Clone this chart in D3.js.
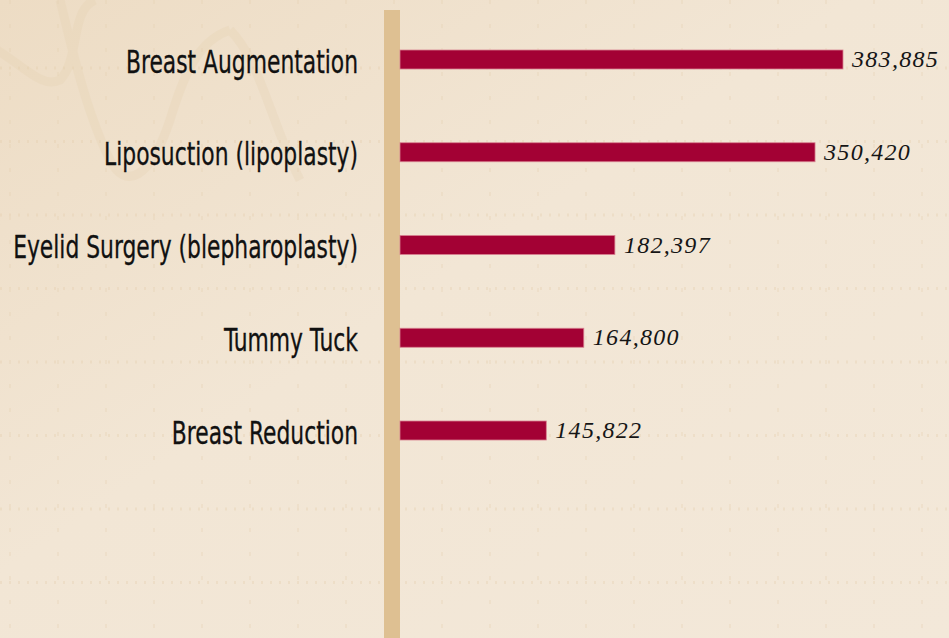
<!DOCTYPE html>
<html>
<head>
<meta charset="utf-8">
<script src="https://cdn.jsdelivr.net/npm/d3@7"></script>
<style>
  html, body { margin: 0; padding: 0; background: #f1e5d3; }
  svg { display: block; }
</style>
</head>
<body>
<svg id="chart" width="949" height="638"></svg>
<script>
// ---- data ----
const categories = [
  "Breast Augmentation",
  "Liposuction (lipoplasty)",
  "Eyelid Surgery (blepharoplasty)",
  "Tummy Tuck",
  "Breast Reduction"
];
const values = [383885, 350420, 182397, 164800, 145822];

// ---- setup ----
const W = 949, H = 638;
const svg = d3.select("#chart");
const defs = svg.append("defs");

// parchment background
const bg = defs.append("linearGradient").attr("id", "bg")
  .attr("x1", "0").attr("y1", "0").attr("x2", "1").attr("y2", "1");
bg.append("stop").attr("offset", "0").attr("stop-color", "#eddcc4");
bg.append("stop").attr("offset", "0.45").attr("stop-color", "#f2e6d5");
bg.append("stop").attr("offset", "1").attr("stop-color", "#f3e8d9");
svg.append("rect").attr("width", W).attr("height", H).attr("fill", "url(#bg)");

// faint ledger pattern
const pat = svg.append("g").attr("opacity", 0.3);
d3.range(0, H, 73.5).forEach(yy => {
  pat.append("line").attr("x1", 0).attr("x2", W).attr("y1", yy + 68).attr("y2", yy + 68)
    .attr("stroke", "#e3cba8").attr("stroke-width", 3).attr("stroke-dasharray", "2 7");
});
d3.range(10, W, 48).forEach(xx => {
  pat.append("line").attr("x1", xx).attr("x2", xx).attr("y1", 0).attr("y2", H)
    .attr("stroke", "#e6d1b2").attr("stroke-width", 2).attr("stroke-dasharray", "4 20");
});
// faint wave curves in upper left
const waves = svg.append("g").attr("fill", "none").attr("stroke", "#e6d2b2").attr("stroke-width", 9).attr("opacity", 0.3);
waves.append("path").attr("d", "M-20,40 C20,60 40,90 60,80 C80,60 70,10 95,0");
waves.append("path").attr("d", "M60,0 C70,40 85,110 110,160 C125,190 150,180 170,120 C185,70 200,40 230,30");
waves.append("path").attr("d", "M230,30 C260,60 270,120 300,180");

// ---- scales ----
const x = d3.scaleLog().domain([90482, 400000]).range([400, 855.6]);
const y = d3.scalePoint().domain(categories).range([59.5, 430.5]);
const barH = 19;

// vertical axis bar
svg.append("rect")
  .attr("x", 384).attr("y", 10).attr("width", 16).attr("height", H - 10)
  .attr("fill", "#dec092");

// bars
svg.append("g").selectAll("rect")
  .data(categories)
  .join("rect")
  .attr("x", x.range()[0])
  .attr("y", d => y(d) - barH / 2)
  .attr("width", (d, i) => x(values[i]) - x.range()[0])
  .attr("height", barH)
  .attr("fill", "#a30134")
  .attr("stroke", "#d8808f")
  .attr("stroke-width", 0.8);

// category labels (condensed sans)
const labG = svg.append("g");
const labs = labG.selectAll("g")
  .data(categories)
  .join("g")
  .attr("transform", d => `translate(358,${y(d) + 13})`);
const labTexts = labs.append("text")
  .attr("text-anchor", "end")
  .attr("font-family", "'Liberation Sans Narrow', 'DejaVu Sans Condensed', 'Roboto', sans-serif")
  .attr("font-size", 32)
  .attr("fill", "#111")
  .attr("stroke", "#111")
  .attr("stroke-width", 0.3)
  .text(d => d);
// horizontally compress to match the condensed face
const longest = labTexts.nodes()[2].getComputedTextLength();
const k = 345 / longest;
labTexts.attr("transform", `scale(${k},1)`);

// value labels
svg.append("g").selectAll("text")
  .data(categories)
  .join("text")
  .attr("x", (d, i) => x(values[i]) + 9)
  .attr("y", d => y(d) + 7.5)
  .attr("font-family", "'Liberation Serif', 'DejaVu Serif', serif")
  .attr("font-style", "italic")
  .attr("font-size", 24)
  .attr("letter-spacing", 1.3)
  .attr("fill", "#151515")
  .text((d, i) => d3.format(",")(values[i]));
</script>
</body>
</html>
